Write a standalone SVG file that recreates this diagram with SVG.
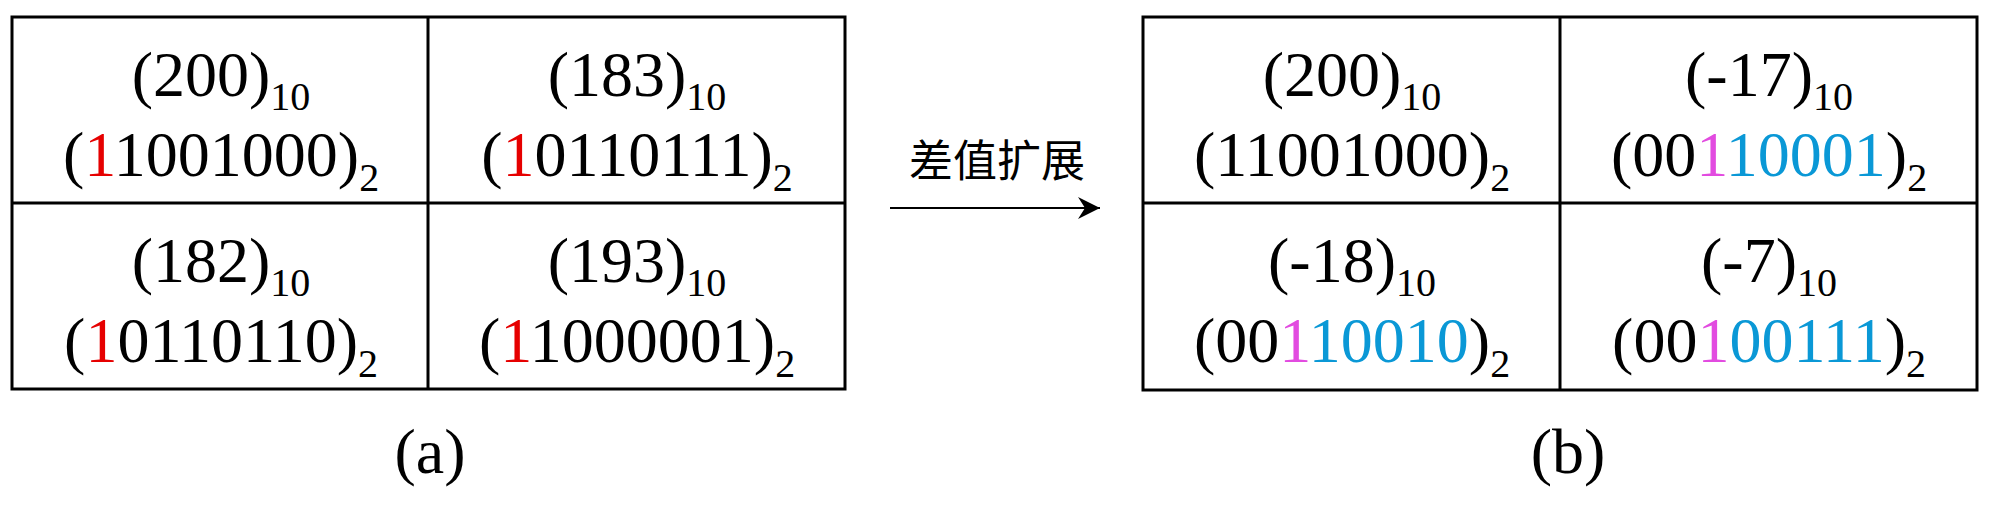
<svg xmlns="http://www.w3.org/2000/svg" width="2000" height="532" viewBox="0 0 2000 532">
<style>
.grid{fill:none;stroke:#000;stroke-width:3}
.t{font-family:"Liberation Serif","Times New Roman",serif;font-size:64px;fill:#000;text-anchor:middle}
.s{font-size:40px}
.r{fill:#E60000}
.m{fill:#E24BE0}
.b{fill:#0A98D6}
.cn{font-family:"Noto Sans CJK SC",sans-serif;font-size:44px;fill:#000;text-anchor:middle}
</style>
<defs>
<marker id="ah" markerUnits="userSpaceOnUse" markerWidth="24" markerHeight="24" refX="22" refY="11" orient="auto" viewBox="0 0 24 22">
<path d="M0,0 L22,11 L0,22 L7,11 Z" fill="#000"/>
</marker>
</defs>
<rect width="2000" height="532" fill="#fff"/>
<g id="tableA">
<rect class="grid" x="12" y="17" width="833" height="372"/>
<line class="grid" x1="428" y1="17" x2="428" y2="389"/>
<line class="grid" x1="12" y1="203" x2="845" y2="203"/>
</g>
<g id="tableB">
<rect class="grid" x="1143" y="17" width="834" height="373"/>
<line class="grid" x1="1560" y1="17" x2="1560" y2="390"/>
<line class="grid" x1="1143" y1="203" x2="1977" y2="203"/>
</g>
<g id="a11">
<text class="t" x="221" y="96">(200)<tspan class="s" dy="14">10</tspan></text>
<text class="t" x="221" y="176">(<tspan class="r">1</tspan>1001000)<tspan class="s" dy="15">2</tspan></text>
</g>
<g id="a12">
<text class="t" x="637" y="96">(183)<tspan class="s" dy="14">10</tspan></text>
<text class="t" x="637" y="176">(<tspan class="r">1</tspan>0110111)<tspan class="s" dy="15">2</tspan></text>
</g>
<g id="a21">
<text class="t" x="221" y="282">(182)<tspan class="s" dy="14">10</tspan></text>
<text class="t" x="221" y="362">(<tspan class="r">1</tspan>0110110)<tspan class="s" dy="15">2</tspan></text>
</g>
<g id="a22">
<text class="t" x="637" y="282">(193)<tspan class="s" dy="14">10</tspan></text>
<text class="t" x="637" y="362">(<tspan class="r">1</tspan>1000001)<tspan class="s" dy="15">2</tspan></text>
</g>
<g id="b11">
<text class="t" x="1352" y="96">(200)<tspan class="s" dy="14">10</tspan></text>
<text class="t" x="1352" y="176">(11001000)<tspan class="s" dy="15">2</tspan></text>
</g>
<g id="b12">
<text class="t" x="1769" y="96">(-17)<tspan class="s" dy="14">10</tspan></text>
<text class="t" x="1769" y="176">(00<tspan class="m">1</tspan><tspan class="b">10001</tspan>)<tspan class="s" dy="15">2</tspan></text>
</g>
<g id="b21">
<text class="t" x="1352" y="282">(-18)<tspan class="s" dy="14">10</tspan></text>
<text class="t" x="1352" y="362">(00<tspan class="m">1</tspan><tspan class="b">10010</tspan>)<tspan class="s" dy="15">2</tspan></text>
</g>
<g id="b22">
<text class="t" x="1769" y="282">(-7)<tspan class="s" dy="14">10</tspan></text>
<text class="t" x="1769" y="362">(00<tspan class="m">1</tspan><tspan class="b">00111</tspan>)<tspan class="s" dy="15">2</tspan></text>
</g>
<g id="captions">
<text class="t" x="430" y="473">(a)</text>
<text class="t" x="1568" y="473">(b)</text>
</g>
<g id="connectors">
<line x1="890" y1="208" x2="1100" y2="208" stroke="#000" stroke-width="2" marker-end="url(#ah)"/>
<text class="cn" x="997" y="177">差值扩展</text>
</g>
</svg>
